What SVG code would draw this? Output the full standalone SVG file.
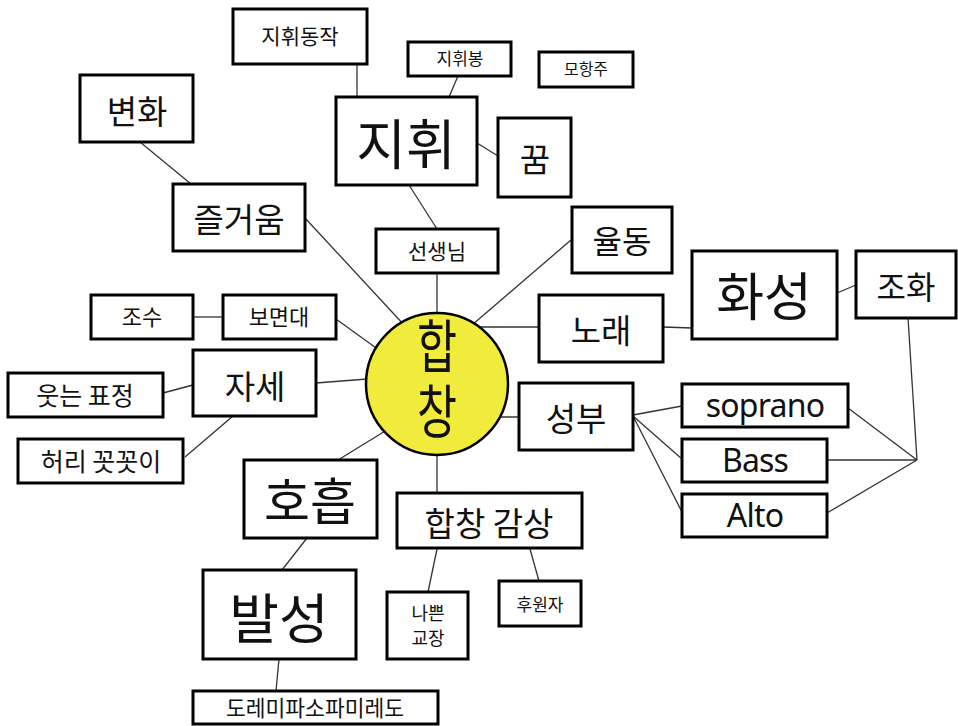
<svg xmlns="http://www.w3.org/2000/svg" width="958" height="726" viewBox="0 0 958 726">
<style>
  .bg { fill: #ffffff; }
  .box { fill: #ffffff; stroke: #000000; stroke-width: 3; }
  .ln { stroke: #333333; stroke-width: 1.3; fill: none; }
  .t { font-family: "Noto Sans CJK KR", "Noto Sans", sans-serif; fill: #111111; text-anchor: middle; }
  .lat { font-family: "Noto Sans", "Open Sans", sans-serif; fill: #111111; text-anchor: middle; letter-spacing: -0.8px; }
  .hub { fill: #f1ec3c; stroke: #000000; stroke-width: 2.5; }
  .vert { writing-mode: vertical-rl; text-orientation: upright; letter-spacing: 7px; }
</style>
<rect class="bg" x="0" y="0" width="958" height="726"/>

<g id="connectors">
  <line class="ln" x1="357" y1="64" x2="357" y2="97"/>
  <line class="ln" x1="458" y1="76" x2="449" y2="97"/>
  <line class="ln" x1="477" y1="143" x2="498" y2="156"/>
  <line class="ln" x1="409" y1="185" x2="437" y2="229"/>
  <line class="ln" x1="437" y1="273" x2="437" y2="330"/>
  <line class="ln" x1="140" y1="142" x2="191" y2="184"/>
  <line class="ln" x1="305" y1="218" x2="405" y2="326"/>
  <line class="ln" x1="571" y1="240" x2="465" y2="331"/>
  <line class="ln" x1="470" y1="327" x2="539" y2="327"/>
  <line class="ln" x1="663" y1="327" x2="692" y2="328"/>
  <line class="ln" x1="837" y1="293" x2="856" y2="285"/>
  <line class="ln" x1="480" y1="417" x2="519" y2="417"/>
  <line class="ln" x1="633" y1="415" x2="682" y2="406"/>
  <line class="ln" x1="633" y1="416" x2="682" y2="459"/>
  <line class="ln" x1="633" y1="416" x2="682" y2="512"/>
  <line class="ln" x1="848" y1="408" x2="917" y2="460"/>
  <line class="ln" x1="827" y1="460" x2="917" y2="460"/>
  <line class="ln" x1="827" y1="513" x2="917" y2="460"/>
  <line class="ln" x1="908" y1="318" x2="917" y2="460"/>
  <line class="ln" x1="336" y1="319" x2="383" y2="353"/>
  <line class="ln" x1="193" y1="317" x2="223" y2="317"/>
  <line class="ln" x1="316" y1="383" x2="380" y2="378"/>
  <line class="ln" x1="163" y1="393" x2="193" y2="385"/>
  <line class="ln" x1="233" y1="416" x2="185" y2="457"/>
  <line class="ln" x1="338" y1="460" x2="395" y2="425"/>
  <line class="ln" x1="437" y1="440" x2="437" y2="493"/>
  <line class="ln" x1="307" y1="538" x2="282" y2="570"/>
  <line class="ln" x1="279" y1="659" x2="276" y2="691"/>
  <line class="ln" x1="437" y1="549" x2="428" y2="592"/>
  <line class="ln" x1="530" y1="549" x2="539" y2="581"/>
</g>

<g id="n-jihwidongjak"><rect class="box" x="233" y="9" width="134" height="55"/><text class="t" x="300" y="44" font-size="21">지휘동작</text></g>
<g id="n-jihwibong"><rect class="box" x="408" y="42" width="103" height="34"/><text class="t" x="460" y="65" font-size="17">지휘봉</text></g>
<g id="n-mohangju"><rect class="box" x="539" y="52" width="94" height="35"/><text class="t" x="586" y="75" font-size="16">모항주</text></g>
<g id="n-byeonhwa"><rect class="box" x="80" y="75" width="113" height="67"/><text class="t" x="137" y="124" font-size="33">변화</text></g>
<g id="n-jihwi"><rect class="box" x="336" y="97" width="141" height="88"/><text class="t" x="406" y="165" font-size="54">지휘</text></g>
<g id="n-kkum"><rect class="box" x="498" y="118" width="73" height="79"/><text class="t" x="535" y="172" font-size="33">꿈</text></g>
<g id="n-jeulgeoum"><rect class="box" x="173" y="184" width="132" height="67"/><text class="t" x="239" y="232" font-size="33">즐거움</text></g>
<g id="n-seonsaengnim"><rect class="box" x="376" y="229" width="122" height="44"/><text class="t" x="437" y="259" font-size="21">선생님</text></g>
<g id="n-yuldong"><rect class="box" x="572" y="207" width="100" height="66"/><text class="t" x="622" y="253" font-size="32">율동</text></g>
<g id="n-josu"><rect class="box" x="91" y="295" width="102" height="44"/><text class="t" x="142" y="325" font-size="22">조수</text></g>
<g id="n-bomyeondae"><rect class="box" x="223" y="295" width="113" height="44"/><text class="t" x="279" y="325" font-size="22">보면대</text></g>
<g id="n-jase"><rect class="box" x="193" y="350" width="123" height="66"/><text class="t" x="255" y="399" font-size="33">자세</text></g>
<g id="n-smile"><rect class="box" x="8" y="373" width="155" height="44"/><text class="t" x="85" y="405" font-size="25">웃는 표정</text></g>
<g id="n-heori"><rect class="box" x="18" y="439" width="165" height="44"/><text class="t" x="101" y="471" font-size="25">허리 꼿꼿이</text></g>
<g id="n-norae"><rect class="box" x="539" y="295" width="124" height="67"/><text class="t" x="601" y="343" font-size="33">노래</text></g>
<g id="n-hwaseong"><rect class="box" x="692" y="251" width="145" height="88"/><text class="t" x="764" y="316" font-size="52">화성</text></g>
<g id="n-johwa"><rect class="box" x="856" y="251" width="100" height="67"/><text class="t" x="906" y="299" font-size="32">조화</text></g>
<g id="n-seongbu"><rect class="box" x="519" y="383" width="114" height="67"/><text class="t" x="576" y="431" font-size="33">성부</text></g>
<g id="n-soprano"><rect class="box" x="682" y="384" width="166" height="43"/><text class="lat" x="765" y="417" font-size="32">soprano</text></g>
<g id="n-bass"><rect class="box" x="682" y="439" width="145" height="43"/><text class="lat" x="755" y="472" font-size="32">Bass</text></g>
<g id="n-alto"><rect class="box" x="682" y="494" width="145" height="43"/><text class="lat" x="755" y="527" font-size="32">Alto</text></g>
<g id="n-hoheup"><rect class="box" x="244" y="460" width="133" height="78"/><text class="t" x="310" y="520" font-size="50">호흡</text></g>
<g id="n-appreciation"><rect class="box" x="397" y="493" width="185" height="55"/><text class="t" x="489" y="536" font-size="33">합창 감상</text></g>
<g id="n-balseong"><rect class="box" x="203" y="570" width="153" height="89"/><text class="t" x="279" y="639" font-size="54">발성</text></g>
<g id="n-principal"><rect class="box" x="387" y="592" width="81" height="67"/><text class="t" font-size="18"><tspan x="428" y="620">나쁜</tspan><tspan x="428" y="645">교장</tspan></text></g>
<g id="n-sponsor"><rect class="box" x="499" y="581" width="82" height="45"/><text class="t" x="540" y="611" font-size="17">후원자</text></g>
<g id="n-doremi"><rect class="box" x="193" y="691" width="245" height="33"/><text class="t" x="315" y="716" font-size="21.5">도레미파소파미레도</text></g>

<g id="n-hapchang">
  <circle class="hub" cx="437" cy="384" r="71"/>
  <g transform="translate(437,0) scale(0.75,1)">
    <text class="t vert" x="0" y="382" font-size="58">합창</text>
  </g>
</g>
</svg>
